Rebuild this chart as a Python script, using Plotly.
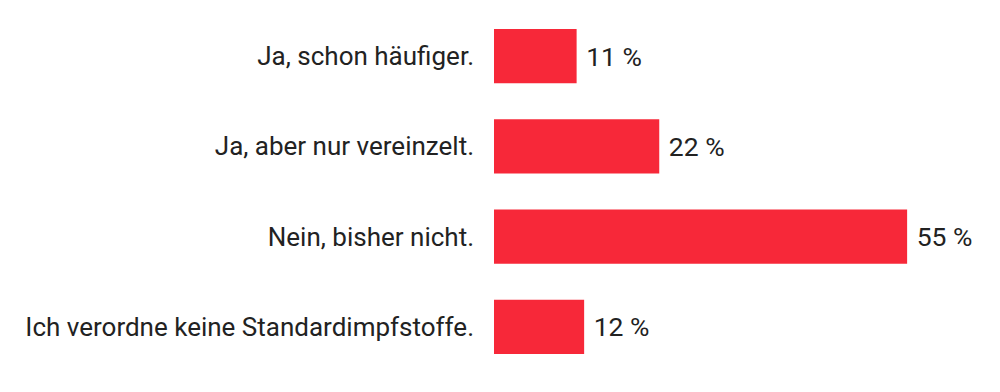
import plotly.graph_objects as go

categories = ["Ja, schon häufiger.", "Ja, aber nur vereinzelt.", "Nein, bisher nicht.", "Ich verordne keine Standardimpfstoffe."]
values = [11, 22, 55, 12]
value_labels = ["11 %", "22 %", "55 %", "12 %"]

font_family = "Roboto, DejaVu Sans Condensed, sans-serif"

fig = go.Figure(go.Bar(
    x=values,
    y=categories,
    orientation="h",
    marker=dict(color="#F72839", line=dict(width=0)),
    text=[" " + t for t in value_labels],
    textposition="outside",
    cliponaxis=False,
    textfont=dict(family=font_family, size=26.5, color="#222222"),
    hoverinfo="skip",
))

fig.update_layout(
    width=984, height=376,
    margin=dict(l=486, r=0, t=3, b=12),
    paper_bgcolor="white", plot_bgcolor="white",
    bargap=0.4,
    showlegend=False,
    font=dict(family=font_family, size=26, color="#222222"),
    xaxis=dict(range=[0, 66.3], visible=False, fixedrange=True),
    yaxis=dict(autorange="reversed", showgrid=False, zeroline=False, showline=False,
               ticks="", ticklabelstandoff=19, fixedrange=True,
               tickfont=dict(family=font_family, size=26, color="#222222")),
)

fig.write_html("out.html", config={"displayModeBar": False})
